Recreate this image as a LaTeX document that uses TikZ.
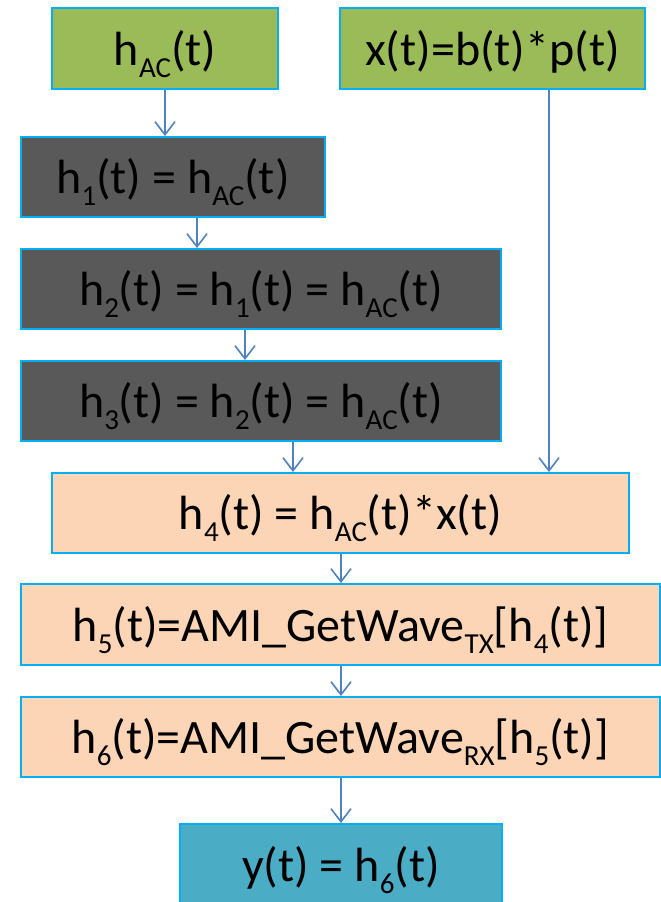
\documentclass[tikz,border=0pt]{standalone}
\usepackage{fontspec}
\setmainfont{Carlito}
\usetikzlibrary{arrows.meta}
\definecolor{boxgreen}{HTML}{9BBB59}
\definecolor{boxdark}{HTML}{595959}
\definecolor{boxpeach}{HTML}{FBD5B5}
\definecolor{boxblue}{HTML}{4BACC6}
\definecolor{boxline}{HTML}{00B0F0}
\definecolor{arrline}{HTML}{4F81BD}
\newcommand\sbs[1]{\raisebox{-12pt}{\fontsize{29}{29}\selectfont #1}}
\tikzset{
  box/.style={draw=boxline, line width=2pt, inner sep=0pt, text height=33pt, text depth=0pt,
    font=\fontsize{48}{56}\selectfont, text=black},
  arr/.style={draw=arrline, line width=1.6pt, -{Straight Barb[length=13pt,width=20pt,line width=1.6pt]}},
}
\begin{document}
\begin{tikzpicture}[x=1pt,y=-1pt]
\useasboundingbox (0,0) rectangle (661,902);
\clip (0,0) rectangle (661,902);
\node[box, fill=boxgreen, minimum width=226pt, minimum height=81pt] (a) at (165,48.5) {h\sbs{AC}(t)};
\node[box, fill=boxgreen, minimum width=305pt, minimum height=81pt] (x) at (492.5,48.5) {x(t)=b(t)*p(t)};
\node[box, fill=boxdark, minimum width=304pt, minimum height=80pt] (h1) at (173,177) {h\sbs{1}(t) = h\sbs{AC}(t)};
\node[box, fill=boxdark, minimum width=480pt, minimum height=80pt] (h2) at (261,289) {h\sbs{2}(t) = h\sbs{1}(t) = h\sbs{AC}(t)};
\node[box, fill=boxdark, minimum width=480pt, minimum height=80pt] (h3) at (261,401) {h\sbs{3}(t) = h\sbs{2}(t) = h\sbs{AC}(t)};
\node[box, fill=boxpeach, minimum width=577pt, minimum height=80pt] (h4) at (340.5,513) {h\sbs{4}(t) = h\sbs{AC}(t)*x(t)};
\node[box, fill=boxpeach, minimum width=639pt, minimum height=81pt] (h5) at (340.5,624.5) {h\sbs{5}(t)=AMI\_GetWave\sbs{TX}[h\sbs{4}(t)]};
\node[box, fill=boxpeach, minimum width=639pt, minimum height=80pt] (h6) at (340.5,737) {h\sbs{6}(t)=AMI\_GetWave\sbs{RX}[h\sbs{5}(t)]};
\node[box, fill=boxblue, minimum width=322pt, minimum height=82pt] (y) at (341,865) {y(t) = h\sbs{6}(t)};
\coordinate (c1) at (197,0);
\coordinate (c2) at (245,0);
\coordinate (c3) at (293,0);
\coordinate (c4) at (549,0);
\coordinate (c5) at (341,0);
\draw[arr] (a.south) -- (h1.north -| a.south);
\draw[arr] (h1.south -| c1) -- (h2.north -| c1);
\draw[arr] (h2.south -| c2) -- (h3.north -| c2);
\draw[arr] (h3.south -| c3) -- (h4.north -| c3);
\draw[arr] (x.south -| c4) -- (h4.north -| c4);
\draw[arr] (h4.south -| c5) -- (h5.north -| c5);
\draw[arr] (h5.south -| c5) -- (h6.north -| c5);
\draw[arr] (h6.south -| c5) -- (y.north -| c5);
\end{tikzpicture}
\end{document}
